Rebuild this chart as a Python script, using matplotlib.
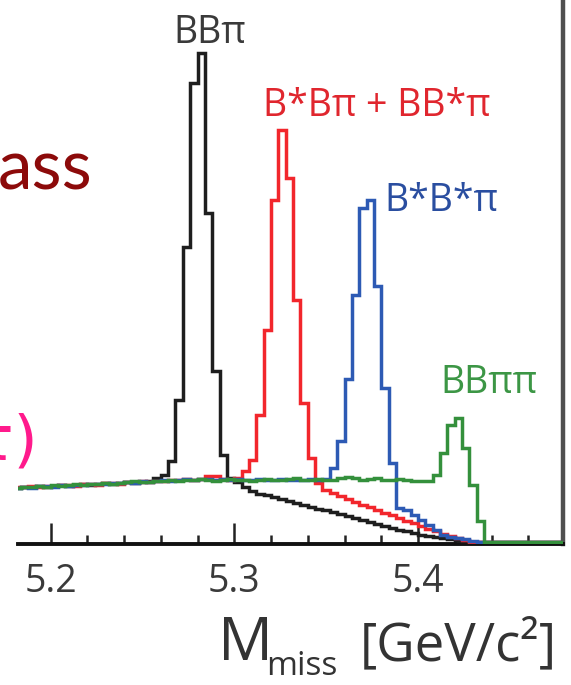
import numpy as np
import matplotlib.pyplot as plt
from matplotlib.ticker import MultipleLocator

plt.rcParams['font.family'] = ['Open Sans', 'DejaVu Sans']

# missing-mass histograms, 4 MeV bins starting at 5.18 GeV
bin_lo = 5.18
bin_w = 0.004

bbpi = [54, 55, 55, 56, 55, 56, 57, 56, 57, 58, 57, 58, 59, 58, 59, 60, 59, 60, 61,
        64, 67, 81, 142, 295, 459, 489, 329, 171, 87, 64, 60, 55, 51,
        48, 47, 45, 43, 41, 39, 37, 35, 33, 32, 30, 28, 26, 24, 22, 20, 18, 16, 14,
        12, 11, 9, 7, 6, 5, 4, 3, 2, 1,
        0, 0, 0, 0, 0, 0, 0, 0, 0, 0, 0, 0, 0]

bstar_bpi = [55, 55, 56, 55, 56, 56, 57, 57, 56, 58, 58, 57, 59, 59, 58, 60, 60, 61,
             60, 61, 61, 62, 62, 63, 62, 63, 66, 66, 63, 62, 64,
             71, 82, 127, 212, 342, 412, 364, 242, 139, 84, 59,
             52, 49, 46, 43, 40, 37, 35, 32, 29, 27, 24, 21, 19, 16, 13, 11, 8, 6, 4, 2,
             0, 0, 0, 0, 0, 0, 0, 0, 0, 0, 0, 0, 0]

bstar_bstar_pi = [54, 55, 54, 56, 56, 55, 57, 56, 57, 57, 58, 58, 58, 59, 59, 60, 59,
                  61, 60, 61, 62, 61, 62, 63, 62, 63, 63, 62, 63, 62, 63, 62, 62, 63,
                  62, 62, 63, 62, 62, 62, 63, 62,
                  63, 74, 101, 163, 247, 334, 342, 256, 154, 79, 34,
                  32, 27, 22, 17, 12, 7, 5, 4, 3, 1,
                  0, 0, 0, 0, 0, 0, 0, 0, 0, 0, 0, 0]

bbpipi = [54, 55, 55, 56, 55, 57, 56, 57, 58, 57, 58, 58, 59, 58, 59, 60, 61, 60, 60,
          61, 61, 62, 61, 62, 62, 63, 62, 61, 62, 63, 62, 62, 61, 62, 63, 62, 62, 63,
          64, 62, 62, 63, 62, 62, 64, 65, 64, 62, 63, 64, 62, 62, 63, 62, 61, 61, 61,
          67, 89, 117, 124, 94, 57, 21,
          0, 0, 0, 0, 0, 0, 0, 0, 0, 0, 0]

series = [
    (bbpi, '#1e1e1e', 'BBπ', 5.2868, 499, '#3a3a3a'),
    (bstar_bpi, '#f2262c', 'B*Bπ + BB*π', 5.3774, 426, '#e0262e'),
    (bstar_bstar_pi, '#2d5ab4', 'B*B*π', 5.4125, 331, '#2a4ea0'),
    (bbpipi, '#34903c', 'BBππ', 5.4384, 149, '#3c9645'),
]

W, H = 571, 685
fig = plt.figure(figsize=(W / 100, H / 100), dpi=100)
ax = fig.add_axes([18 / W, 141 / H, 545 / W, 544 / H])

edges = bin_lo + bin_w * np.arange(len(bbpi) + 1)
for vals, col, lab, lx, ly, tcol in series:
    ax.stairs(vals, edges, color=col, lw=2.5, zorder=3)
    ax.text(lx, ly, lab, ha='center', va='baseline', fontsize=27, color=tcol)

ax.set_xlim(5.1823, 5.4789)
ax.set_ylim(-2, 542)

ax.spines['left'].set_visible(False)
ax.spines['top'].set_visible(False)
ax.spines['bottom'].set_color('#111111')
ax.spines['bottom'].set_linewidth(2.8)
ax.spines['right'].set_color('#505050')
ax.spines['right'].set_linewidth(3.2)

ax.set_yticks([])
ax.set_xticks([5.2, 5.3, 5.4])
ax.set_xticklabels(['5.2', '5.3', '5.4'])
ax.xaxis.set_minor_locator(MultipleLocator(0.02))
ax.tick_params(axis='x', which='major', direction='in', length=15, width=1.8,
               color='#222222', pad=14, labelsize=27, labelcolor='#3a3a3a')
ax.tick_params(axis='x', which='minor', direction='in', length=6.5, width=1.8,
               color='#222222')

# axis title
fig.text(218 / W, 1 - 660 / H, 'M', fontsize=44, color='#333333', va='baseline')
fig.text(266 / W, 1 - 675 / H, 'miss', fontsize=24, color='#333333', va='baseline')
fig.text(557 / W, 1 - 660 / H, '[GeV/c²]', fontsize=38, color='#333333',
         ha='right', va='baseline')

# slide text around the plot
fig.text(-2 / W, 1 - 190 / H, 'ass', fontsize=50, color='#8c0a0a',
         family='Lato', va='baseline')
fig.text(38 / W, 1 - 460 / H, 'τ)', fontsize=45, color='#ff1a8c',
         family='DejaVu Sans', ha='right', va='baseline')

fig.savefig('out.png', dpi=100, facecolor='white')
